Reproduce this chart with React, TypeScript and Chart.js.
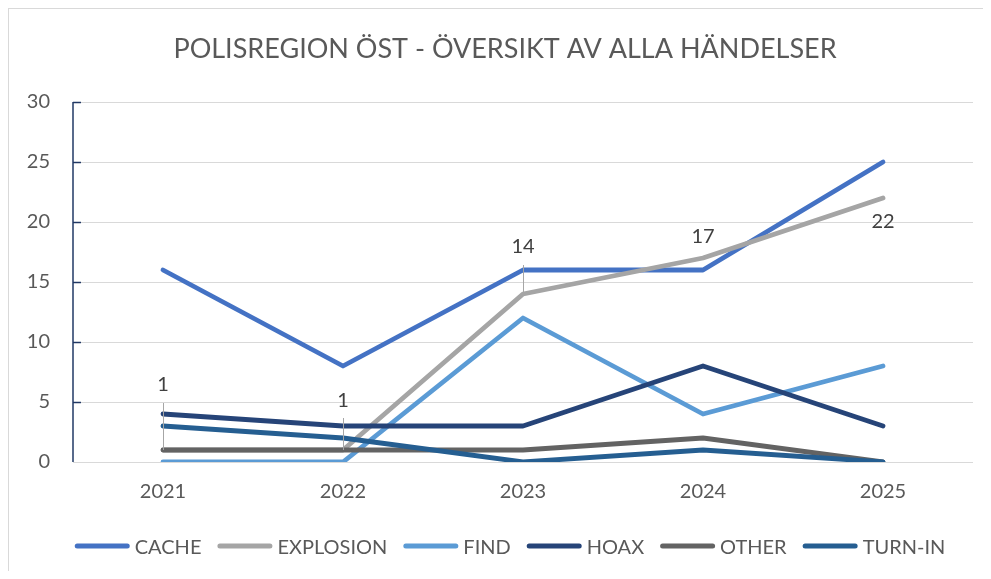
import React, { useEffect, useRef } from "react";
import { Chart, registerables } from "chart.js";

Chart.register(...registerables);

const categories = ["2021", "2022", "2023", "2024", "2025"];
const seriesNames = ["CACHE", "EXPLOSION", "FIND", "HOAX", "OTHER", "TURN-IN"];
const cache = [16, 8, 16, 16, 25];
const explosion = [1, 1, 14, 17, 22];
const find = [0, 0, 12, 4, 8];
const hoax = [4, 3, 3, 8, 3];
const other = [1, 1, 1, 2, 0];
const turnIn = [3, 2, 0, 1, 0];
const yTicks = [0, 5, 10, 15, 20, 25, 30];
const titleText = "POLISREGION ÖST - ÖVERSIKT AV ALLA HÄNDELSER";

const seriesValues = [cache, explosion, find, hoax, other, turnIn];
const seriesColors = ["#4472C4", "#A5A5A5", "#5B9BD5", "#264478", "#636363", "#255E91"];

// label placement (pixels relative to the point) for EXPLOSION data labels
const labelDy = [-65, -49, -47, -21, 24];
const leaderFrom = [-47, -32, -29, null, null];
const leaderTo = [0, 0, -2, null, null];

const FONT = "Lato, 'Open Sans', sans-serif";
const TEXT = "#595959";

const decorPlugin = {
  id: "decor",
  beforeDatasetsDraw(chart: any) {
    const { ctx, chartArea, scales } = chart;
    const ys = scales.y;
    ctx.save();
    ctx.strokeStyle = "#203864";
    ctx.lineWidth = 1.5;
    ctx.beginPath();
    ctx.moveTo(chartArea.left, ys.getPixelForValue(30));
    ctx.lineTo(chartArea.left, ys.getPixelForValue(0));
    ctx.stroke();
    yTicks.forEach((v) => {
      if (v === 0) return;
      const py = Math.round(ys.getPixelForValue(v)) + 0.5;
      ctx.beginPath();
      ctx.moveTo(chartArea.left, py);
      ctx.lineTo(chartArea.left + 8, py);
      ctx.stroke();
    });
    ctx.restore();
  },
  afterDatasetsDraw(chart: any) {
    const { ctx } = chart;
    const meta = chart.getDatasetMeta(1);
    ctx.save();
    ctx.font = `20px ${FONT}`;
    ctx.fillStyle = "#404040";
    ctx.textAlign = "center";
    ctx.textBaseline = "middle";
    meta.data.forEach((pt: any, i: number) => {
      const f = leaderFrom[i];
      const t = leaderTo[i];
      if (f !== null && t !== null) {
        ctx.strokeStyle = "#A6A6A6";
        ctx.lineWidth = 1;
        ctx.beginPath();
        ctx.moveTo(Math.round(pt.x) + 0.5, pt.y + f);
        ctx.lineTo(Math.round(pt.x) + 0.5, pt.y + t);
        ctx.stroke();
      }
      ctx.fillText(String(explosion[i]), pt.x, pt.y + labelDy[i]);
    });
    ctx.restore();
  },
  afterDraw(chart: any) {
    const { ctx, width } = chart;
    ctx.save();
    // title
    ctx.font = `27px ${FONT}`;
    ctx.fillStyle = TEXT;
    ctx.textAlign = "center";
    ctx.textBaseline = "alphabetic";
    ctx.fillText(titleText, width / 2 + 5, 49);
    // legend
    ctx.font = `20px ${FONT}`;
    const lineW = 55;
    const gap = 5;
    const spacing = 16;
    const widths = seriesNames.map((n) => ctx.measureText(n).width);
    const total =
      widths.reduce((a, b) => a + b, 0) + seriesNames.length * (lineW + gap) + (seriesNames.length - 1) * spacing;
    let x = 501 - total / 2;
    ctx.textAlign = "left";
    seriesNames.forEach((n, i) => {
      ctx.strokeStyle = seriesColors[i];
      ctx.lineWidth = 5;
      ctx.lineCap = "round";
      ctx.beginPath();
      ctx.moveTo(x + 2.5, 537);
      ctx.lineTo(x + lineW - 2.5, 537);
      ctx.stroke();
      x += lineW + gap;
      ctx.fillStyle = TEXT;
      ctx.fillText(n, x, 545);
      x += widths[i] + spacing;
    });
    ctx.restore();
  },
};

export default function App() {
  const ref = useRef<HTMLCanvasElement | null>(null);
  useEffect(() => {
    if (!ref.current) return;
    const chart = new Chart(ref.current, {
      type: "line",
      data: {
        labels: categories,
        datasets: seriesNames.map((name, i) => ({
          label: name,
          data: seriesValues[i],
          borderColor: seriesColors[i],
          backgroundColor: seriesColors[i],
          borderWidth: 4.8,
          pointRadius: 0,
          pointHoverRadius: 0,
          borderCapStyle: "round",
          borderJoinStyle: "round",
          tension: 0,
          order: seriesNames.length - 1 - i,
        })),
      },
      options: {
        animation: false,
        responsive: false,
        devicePixelRatio: 1,
        layout: { padding: { left: 0, right: 18, top: 93, bottom: 0 } },
        plugins: {
          legend: { display: false },
          title: { display: false },
          tooltip: { enabled: false },
        },
        events: [],
        scales: {
          x: {
            type: "category",
            offset: true,
            grid: { display: false, drawTicks: false },
            border: { display: false },
            ticks: { color: TEXT, font: { family: FONT, size: 20 }, padding: 18, maxRotation: 0 },
            afterFit: (s: any) => {
              s.height = 109;
            },
          },
          y: {
            min: 0,
            max: 30,
            afterBuildTicks: (s: any) => {
              s.ticks = yTicks.map((v) => ({ value: v }));
            },
            grid: { color: "#D9D9D9", lineWidth: 1, drawTicks: false },
            border: { display: false },
            ticks: { color: TEXT, font: { family: FONT, size: 20 }, padding: 23 },
            afterFit: (s: any) => {
              s.width = 64;
            },
          },
        },
      },
      plugins: [decorPlugin],
    } as any);
    return () => chart.destroy();
  }, []);
  return (
    <div
      style={{
        width: 983,
        height: 563,
        boxSizing: "border-box",
        borderTop: "1px solid #D9D9D9",
        borderLeft: "1px solid #D9D9D9",
        overflow: "hidden",
        background: "#fff",
      }}
    >
      <canvas ref={ref} width={982} height={562} style={{ display: "block", width: 982, height: 562 }} />
    </div>
  );
}
